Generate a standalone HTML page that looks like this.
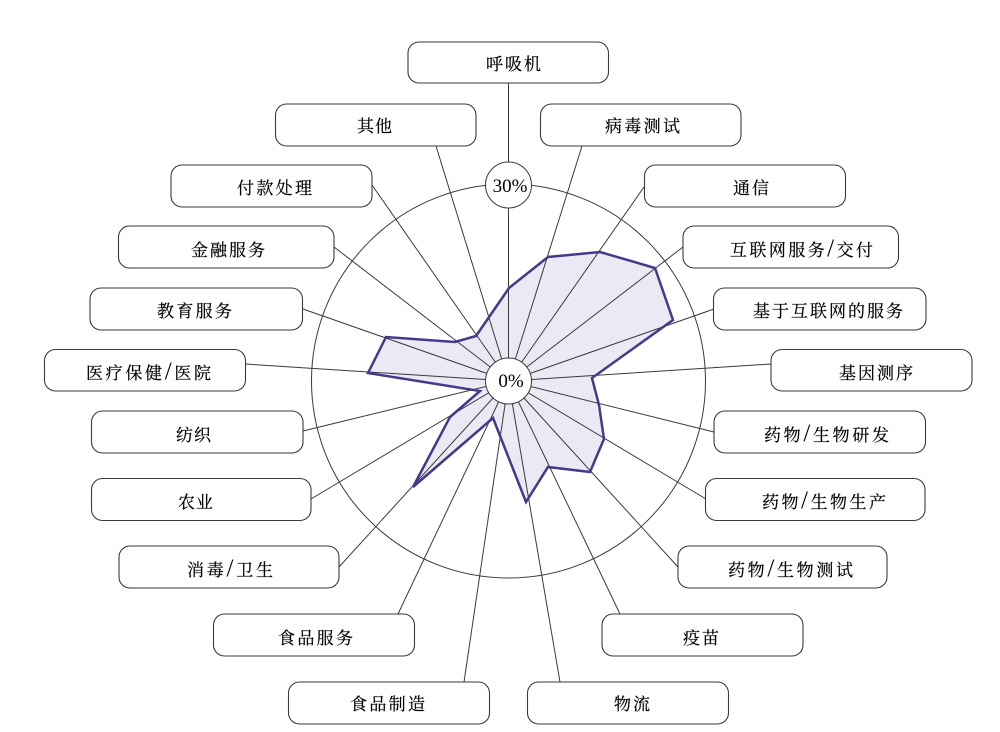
<!DOCTYPE html>
<html><head><meta charset="utf-8"><style>
html,body{margin:0;padding:0;background:#fff;width:1000px;height:732px;overflow:hidden}
svg{display:block}
.b{fill:#fff;stroke:#3a3a3a;stroke-width:1.1}
.t{font-family:"Liberation Serif","Noto Serif CJK SC",serif;font-size:17px;fill:#000;stroke:#000;stroke-width:.2}
.t tspan{font-size:25px;stroke-width:0}
.s{stroke:#3a3a3a;stroke-width:1;fill:none}
</style></head><body>
<svg width="1000" height="732" viewBox="0 0 1000 732" xmlns="http://www.w3.org/2000/svg">
<circle cx="508.5" cy="381" r="197" fill="none" stroke="#3a3a3a" stroke-width="1"/>
<polygon points="509,288 548,257 600,252 655,268 673,320 592,378 599,405 604,439 590,472 548,467 526,502 493,418 413,487 450,417 480,391 368,373 386,337 455,342 476,336" fill="#ebe9f4" stroke="none"/>
<g class="s">
<line x1="508.5" y1="381" x2="508.5" y2="83"/>
<line x1="508.5" y1="381" x2="582" y2="146"/>
<line x1="508.5" y1="381" x2="644" y2="187"/>
<line x1="508.5" y1="381" x2="683" y2="247"/>
<line x1="508.5" y1="381" x2="714" y2="309"/>
<line x1="508.5" y1="381" x2="771" y2="364"/>
<line x1="508.5" y1="381" x2="714" y2="432"/>
<line x1="508.5" y1="381" x2="706" y2="499"/>
<line x1="508.5" y1="381" x2="678" y2="567"/>
<line x1="508.5" y1="381" x2="620" y2="614"/>
<line x1="508.5" y1="381" x2="560" y2="682"/>
<line x1="508.5" y1="381" x2="464" y2="682"/>
<line x1="508.5" y1="381" x2="398" y2="614"/>
<line x1="508.5" y1="381" x2="339" y2="567"/>
<line x1="508.5" y1="381" x2="311" y2="499"/>
<line x1="508.5" y1="381" x2="303" y2="431"/>
<line x1="508.5" y1="381" x2="245" y2="364"/>
<line x1="508.5" y1="381" x2="303" y2="309"/>
<line x1="508.5" y1="381" x2="334" y2="247"/>
<line x1="508.5" y1="381" x2="372" y2="185"/>
<line x1="508.5" y1="381" x2="436" y2="146"/>
</g>
<polygon points="509,288 548,257 600,252 655,268 673,320 592,378 599,405 604,439 590,472 548,467 526,502 493,418 413,487 450,417 480,391 368,373 386,337 455,342 476,336" fill="none" stroke="#443a8c" stroke-width="2.5" stroke-linejoin="miter"/>
<circle cx="508.5" cy="381" r="23" fill="#fff" stroke="#3a3a3a" stroke-width="1"/>
<circle cx="508.5" cy="185" r="23" fill="#fff" stroke="#3a3a3a" stroke-width="1"/>
<text x="510" y="192" text-anchor="middle" style="font-family:'Liberation Serif',serif;font-size:19px;fill:#000">30%</text>
<text x="511" y="387" text-anchor="middle" style="font-family:'Liberation Serif',serif;font-size:19px;fill:#000">0%</text>
<g>
<rect class="b" x="408" y="42" width="200.500" height="41" rx="11"/>
<rect class="b" x="275.500" y="104" width="200.500" height="42" rx="11"/>
<rect class="b" x="540.500" y="104" width="200.500" height="42" rx="11"/>
<rect class="b" x="171" y="165" width="201" height="42" rx="11"/>
<rect class="b" x="644.500" y="165" width="201" height="42" rx="11"/>
<rect class="b" x="118.500" y="226" width="215.500" height="42" rx="11"/>
<rect class="b" x="683" y="226" width="215.500" height="42" rx="11"/>
<rect class="b" x="90" y="288" width="212.500" height="42" rx="11"/>
<rect class="b" x="713.500" y="288" width="212.500" height="42" rx="11"/>
<rect class="b" x="44.500" y="349.500" width="201" height="41.500" rx="11"/>
<rect class="b" x="771" y="349.500" width="201" height="41.500" rx="11"/>
<rect class="b" x="91.500" y="411" width="211.500" height="42" rx="11"/>
<rect class="b" x="714" y="411" width="211.500" height="42" rx="11"/>
<rect class="b" x="91.500" y="478.500" width="219.500" height="42" rx="11"/>
<rect class="b" x="705.500" y="478.500" width="219.500" height="42" rx="11"/>
<rect class="b" x="119" y="546" width="220" height="42" rx="11"/>
<rect class="b" x="678" y="546" width="209" height="42" rx="11"/>
<rect class="b" x="213.500" y="614" width="201" height="42" rx="11"/>
<rect class="b" x="602" y="614" width="201" height="42" rx="11"/>
<rect class="b" x="288.500" y="682" width="201" height="42" rx="11"/>
<rect class="b" x="527.500" y="682" width="201" height="42" rx="11"/>
</g>
<g class="t">
<text x="486" y="70" textLength="55">呼吸机</text>
<text x="357" y="132" textLength="35">其他</text>
<text x="605" y="132" textLength="75">病毒测试</text>
<text x="237" y="194" textLength="75">付款处理</text>
<text x="733" y="194" textLength="36">通信</text>
<text x="191" y="256" textLength="74">金融服务</text>
<text x="730" y="256" textLength="143">互联网服务<tspan>/</tspan>交付</text>
<text x="753" y="317" textLength="150">基于互联网的服务</text>
<text x="157" y="317" textLength="75">教育服务</text>
<text x="86" y="379" textLength="125">医疗保健<tspan>/</tspan>医院</text>
<text x="839" y="379" textLength="74">基因测序</text>
<text x="176" y="441" textLength="35">纺织</text>
<text x="764" y="441" textLength="125">药物<tspan>/</tspan>生物研发</text>
<text x="178" y="508" textLength="35">农业</text>
<text x="762" y="508" textLength="124">药物<tspan>/</tspan>生物生产</text>
<text x="187" y="576" textLength="86">消毒<tspan>/</tspan>卫生</text>
<text x="728" y="576" textLength="125">药物<tspan>/</tspan>生物测试</text>
<text x="278" y="644" textLength="75">食品服务</text>
<text x="683" y="644" textLength="36">疫苗</text>
<text x="350" y="710" textLength="75">食品制造</text>
<text x="614" y="710" textLength="36">物流</text>
</g>
</svg>
</body></html>
